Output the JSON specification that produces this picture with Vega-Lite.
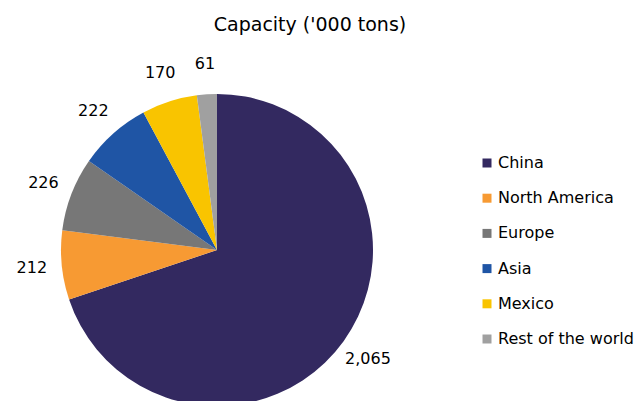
{
  "$schema": "https://vega.github.io/schema/vega-lite/v6.json",
  "width": 434,
  "height": 302,
  "autosize": {"type": "none"},
  "padding": {"left": 0, "top": 99, "right": 202, "bottom": 0},
  "title": {
    "text": "Capacity ('000 tons)",
    "font": "DejaVu Sans",
    "fontSize": 19,
    "fontWeight": "normal",
    "color": "#000000",
    "anchor": "middle",
    "frame": "group",
    "dx": 93,
    "offset": 21
  },
  "config": {"view": {"stroke": null}},
  "data": {
    "values": [
      {"region": "China", "capacity": 2065},
      {"region": "North America", "capacity": 212},
      {"region": "Europe", "capacity": 226},
      {"region": "Asia", "capacity": 222},
      {"region": "Mexico", "capacity": 170},
      {"region": "Rest of the world", "capacity": 61}
    ]
  },
  "transform": [{"window": [{"op": "row_number", "as": "slot"}]}],
  "encoding": {
    "theta": {"field": "capacity", "type": "quantitative", "stack": true},
    "order": {"field": "slot", "type": "quantitative"},
    "color": {
      "field": "region",
      "type": "nominal",
      "scale": {
        "domain": ["China", "North America", "Europe", "Asia", "Mexico", "Rest of the world"],
        "range": ["#332960", "#F79A33", "#777777", "#1F55A5", "#F9C400", "#A0A0A0"]
      },
      "legend": {
        "title": null,
        "orient": "none",
        "legendX": 479,
        "legendY": 56,
        "padding": 0,
        "symbolType": "square",
        "symbolSize": 81,
        "symbolStrokeWidth": 0,
        "symbolOpacity": 1,
        "labelFont": "DejaVu Sans",
        "labelFontSize": 16,
        "labelColor": "#000000",
        "labelOffset": 3,
        "rowPadding": 19.2,
        "labelLimit": 300
      }
    }
  },
  "layer": [
    {"mark": {"type": "arc", "outerRadius": 156, "stroke": null}},
    {
      "mark": {"type": "text", "radius": 186, "font": "DejaVu Sans", "fontSize": 16, "color": "#000000"},
      "encoding": {
        "text": {"field": "capacity", "type": "quantitative", "format": ","},
        "color": {"value": "#000000"}
      }
    }
  ]
}
